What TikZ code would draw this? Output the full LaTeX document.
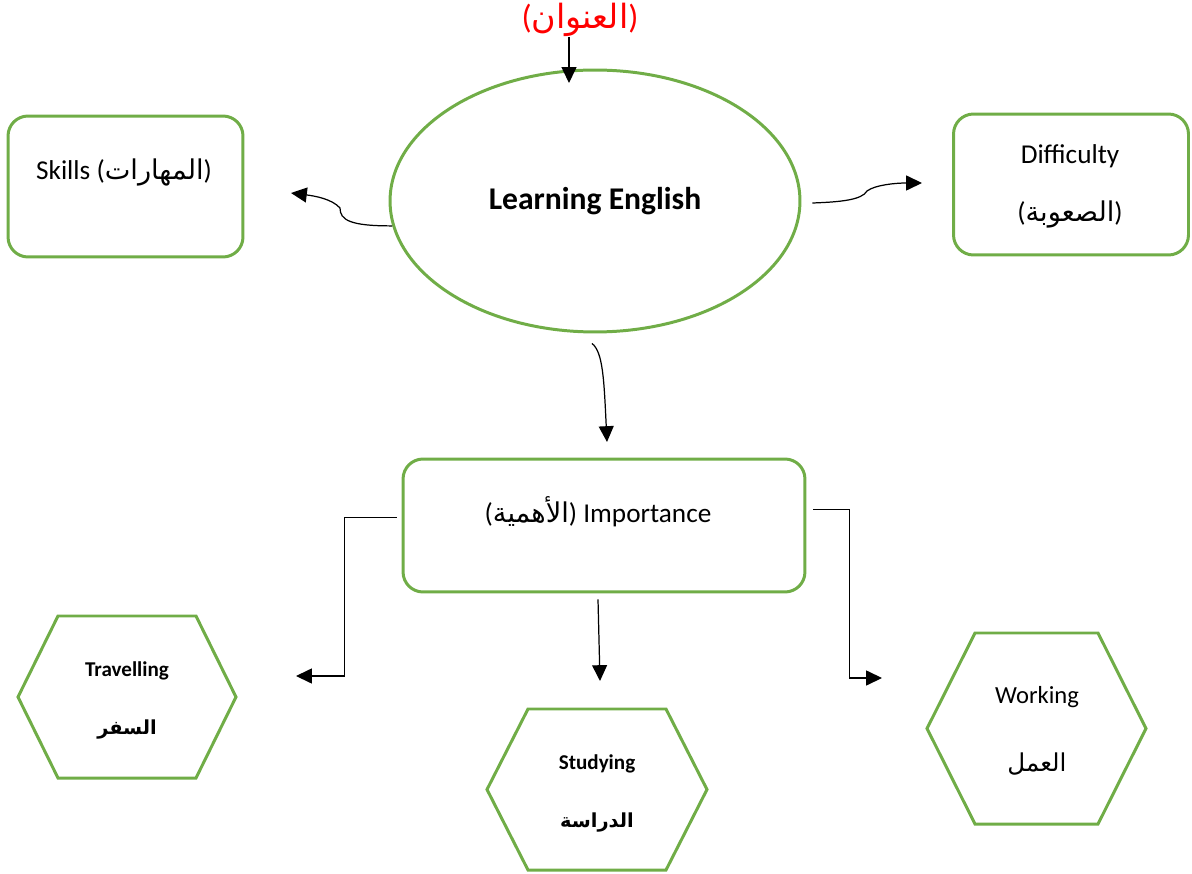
\documentclass[tikz,border=0pt]{standalone}
\usepackage{fontspec}
\setmainfont{Carlito}
\newfontfamily\arabicfont[Script=Arabic]{DejaVu Sans}
\TeXXeTstate=1
\usetikzlibrary{arrows.meta,shapes.geometric,calc}
\definecolor{boxgreen}{RGB}{112,173,71}
\definecolor{titlered}{RGB}{255,0,0}
\newcommand{\arabtxt}[1]{{\arabicfont\beginR #1\endR}}

\begin{document}
\begin{tikzpicture}[x=0.02cm, y=-0.02cm, >={Triangle[length=9pt,width=8.5pt]},
	greenbox/.style={draw=boxgreen, line width=1.7pt, rounded corners=0.4cm, minimum width=4.7cm, minimum height=2.82cm},
	mainEllipse/.style={draw=boxgreen, line width=1.7pt, ellipse, minimum width=8.2cm, minimum height=5.24cm},
	hexLine/.style={draw=boxgreen, line width=1.7pt},
	conn/.style={->, line width=0.7pt, color=black},
	bodytxt/.style={font=\fontsize{15.5}{18}\selectfont, align=center, inner sep=0pt},
	hextxt/.style={font=\fontsize{12}{14}\bfseries\selectfont, align=center, inner sep=0pt}
	]
	\useasboundingbox (0,0) rectangle (1192,874);
	
	\node[text=titlered, font=\fontsize{19}{22}\selectfont, inner sep=0pt] (title) at (580,20) {(\arabtxt{العنوان})};
	\node[mainEllipse, font=\fontsize{18}{21}\bfseries\selectfont] (learn) at (595,201) {Learning English};
	
	\node[greenbox] (skills) at (125.5,186.5) {};
	\node[bodytxt] (skillsT) at (124,172) {Skills (\arabtxt{المهارات})};
	\node[greenbox] (diff) at (1071,184.5) {};
	\node[bodytxt] (diffT) at (1070,186) {Difficulty\\[15pt](\arabtxt{الصعوبة})};
	\node[greenbox, minimum width=8.04cm, minimum height=2.66cm] (imp) at (604,525.5) {};
	\node[bodytxt] (impT) at (598,512) {(\arabtxt{الأهمية}) Importance};
	
	\foreach \cx/\cy/\hw/\ins/\hh in {127/697/109/40/81, 597/789.5/110/41/80.5, 1036.5/728.5/109.5/48/95.5}
		\draw[hexLine] (\cx-\hw,\cy) -- (\cx-\hw+\ins,\cy-\hh) -- (\cx+\hw-\ins,\cy-\hh) -- (\cx+\hw,\cy) -- (\cx+\hw-\ins,\cy+\hh) -- (\cx-\hw+\ins,\cy+\hh) -- cycle;
	\node[hextxt] (trav) at (127,700) {Travelling\\[19pt]{\arabicfont\fontsize{11}{13}\bfseries\selectfont\beginR السفر\endR}};
	\node[hextxt] (study) at (597,793) {Studying\\[19pt]{\arabicfont\fontsize{11}{13}\bfseries\selectfont\beginR الدراسة\endR}};
	\node[bodytxt, font=\fontsize{14}{16}\selectfont] (work) at (1037,731) {Working\\[23pt]\arabtxt{العمل}};
	
	\coordinate (titleIn) at (569,83);
	\coordinate (skillsIn) at (291,193);
	\coordinate (diffIn) at (922,183);
	\coordinate (impIn) at (607,442);
	\coordinate (travIn) at (296,676);
	\coordinate (studyIn) at (600,681);
	\coordinate (workIn) at (882,678);
	
	\draw[conn] (titleIn |- title.south) -- (titleIn);
	\draw[conn] (learn.187) .. controls (350,226) and (340,220) .. (340,208) .. controls (332,199) and (315,196) .. (skillsIn);
	\draw[conn] ($(learn.east)+(11,2)$) .. controls (840,202) and (862,200) .. (867,191) .. controls (875,185) and (895,183) .. (diffIn);
	\draw[conn] ($(learn.south)+(-3,10)$) .. controls (603,352) and (604,380) .. (impIn);
	\draw[conn] ($(imp.west)+(-5,-8)$) -- ++(-52,0) |- (travIn);
	\draw[conn] ($(imp.south)+(-6,6)$) -- (studyIn);
	\draw[conn] ($(imp.east)+(7,-16)$) -- ++(36,0) |- (workIn);
\end{tikzpicture}
\end{document}
